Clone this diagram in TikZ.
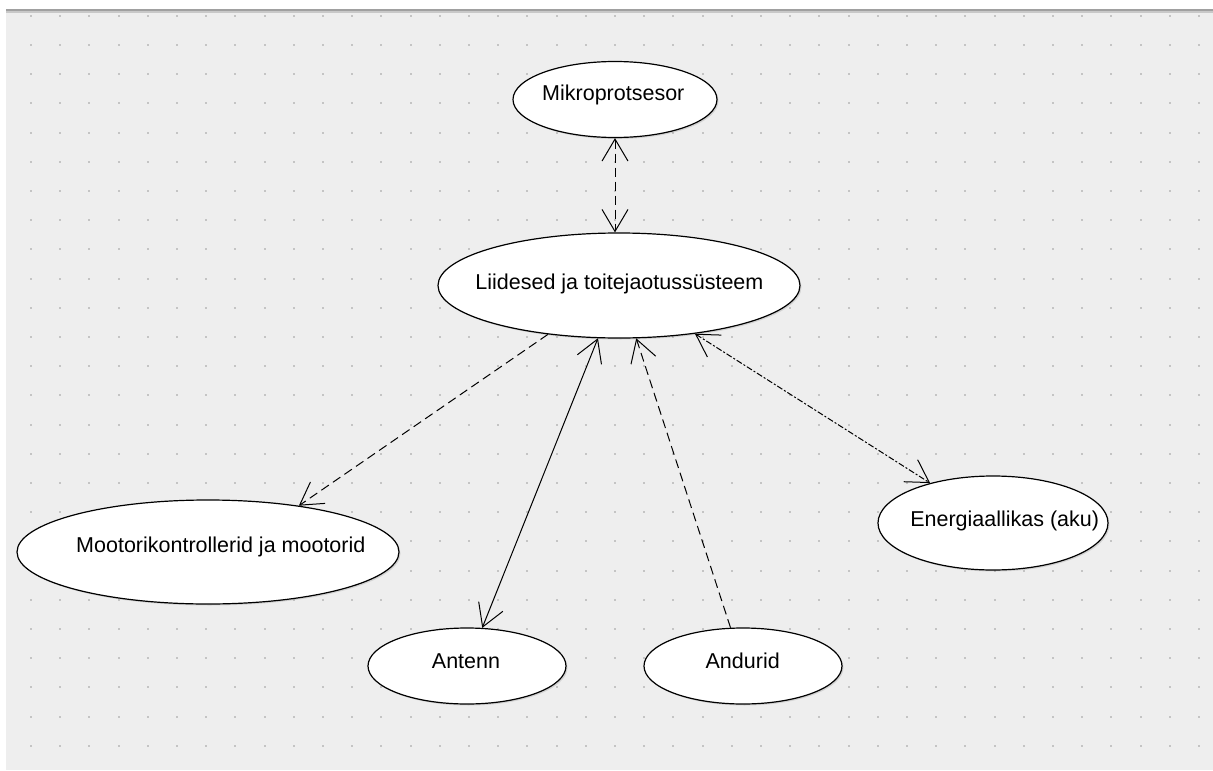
\documentclass[tikz,border=0pt]{standalone}
\usepackage{fontspec}
\setmainfont{Liberation Sans}
\usetikzlibrary{arrows.meta,shapes.geometric,shadows}
\definecolor{bgc}{HTML}{EEEEEE}
\definecolor{dotc}{HTML}{C4C4C4}
\definecolor{topl}{HTML}{A0A0A0}
\definecolor{topl2}{HTML}{C8C8C8}
\begin{document}
\begin{tikzpicture}[x=1pt,y=-1pt,
  uc/.style={ellipse, draw=black, line width=1.2pt, fill=white, inner sep=0pt,
    drop shadow={shadow xshift=1.5pt, shadow yshift=-1.5pt, opacity=0.25}},
  lbl/.style={anchor=base, inner sep=0pt, font=\fontsize{21.5}{25}\selectfont},
  conn/.style={line width=1pt, draw=black},
  >={Straight Barb[length=22pt,width=26pt,line width=1pt]},
  dsh/.style={dash pattern=on 9pt off 5pt},
  dshb/.style={dash pattern=on 6pt off 2pt on 2pt off 2pt}
]
\useasboundingbox (0,0) rectangle (1213,771);
\fill[white] (0,0) rectangle (1213,771);
\fill[bgc] (6,12.7) rectangle (1213,770);
\fill[topl] (6,9.3) rectangle (1213,11.3);
\fill[topl2] (6,11.3) rectangle (1213,12.7);
\foreach \i in {0,...,40} {
  \foreach \j in {0,...,25} {
    \fill[dotc] ({30+29.2*\i},{14.7+29.2*\j}) rectangle +(2,2);
  }
}
% use cases
\node[uc, minimum width=204pt, minimum height=76pt] (mikro) at (615,99.5) {};
\node[uc, minimum width=362pt, minimum height=105pt] (liid) at (619,285.5) {};
\node[uc, minimum width=382pt, minimum height=104pt] (moot) at (208,552) {};
\node[uc, minimum width=198pt, minimum height=76pt] (ant) at (467,666) {};
\node[uc, minimum width=198pt, minimum height=76pt] (and) at (743,666) {};
\node[uc, minimum width=230pt, minimum height=94pt] (ene) at (993,523) {};
% labels
\node[lbl] (mikroT) at (613.3,100) {Mikroprotsesor};
\node[lbl] (liidT) at (619.4,289.3) {Liidesed ja toitejaotussüsteem};
\node[lbl] (mootT) at (220.8,552.7) {Mootorikontrollerid ja mootorid};
\node[lbl] (antT) at (466,668.3) {Antenn};
\node[lbl] (andT) at (742.7,668.3) {Andurid};
\node[lbl] (eneT) at (1004.7,526.7) {Energiaallikas (aku)};
% connectors
\draw[conn, dsh, <->] (mikro.south) -- (mikro.south |- liid.north);
\draw[conn, dsh, ->] (liid) -- (moot.27);
\draw[conn, <->] (liid) -- (ant);
\draw[conn, dsh, ->] (and) -- (liid);
\draw[conn, dshb, <->] (liid) -- (ene);
\end{tikzpicture}
\end{document}
